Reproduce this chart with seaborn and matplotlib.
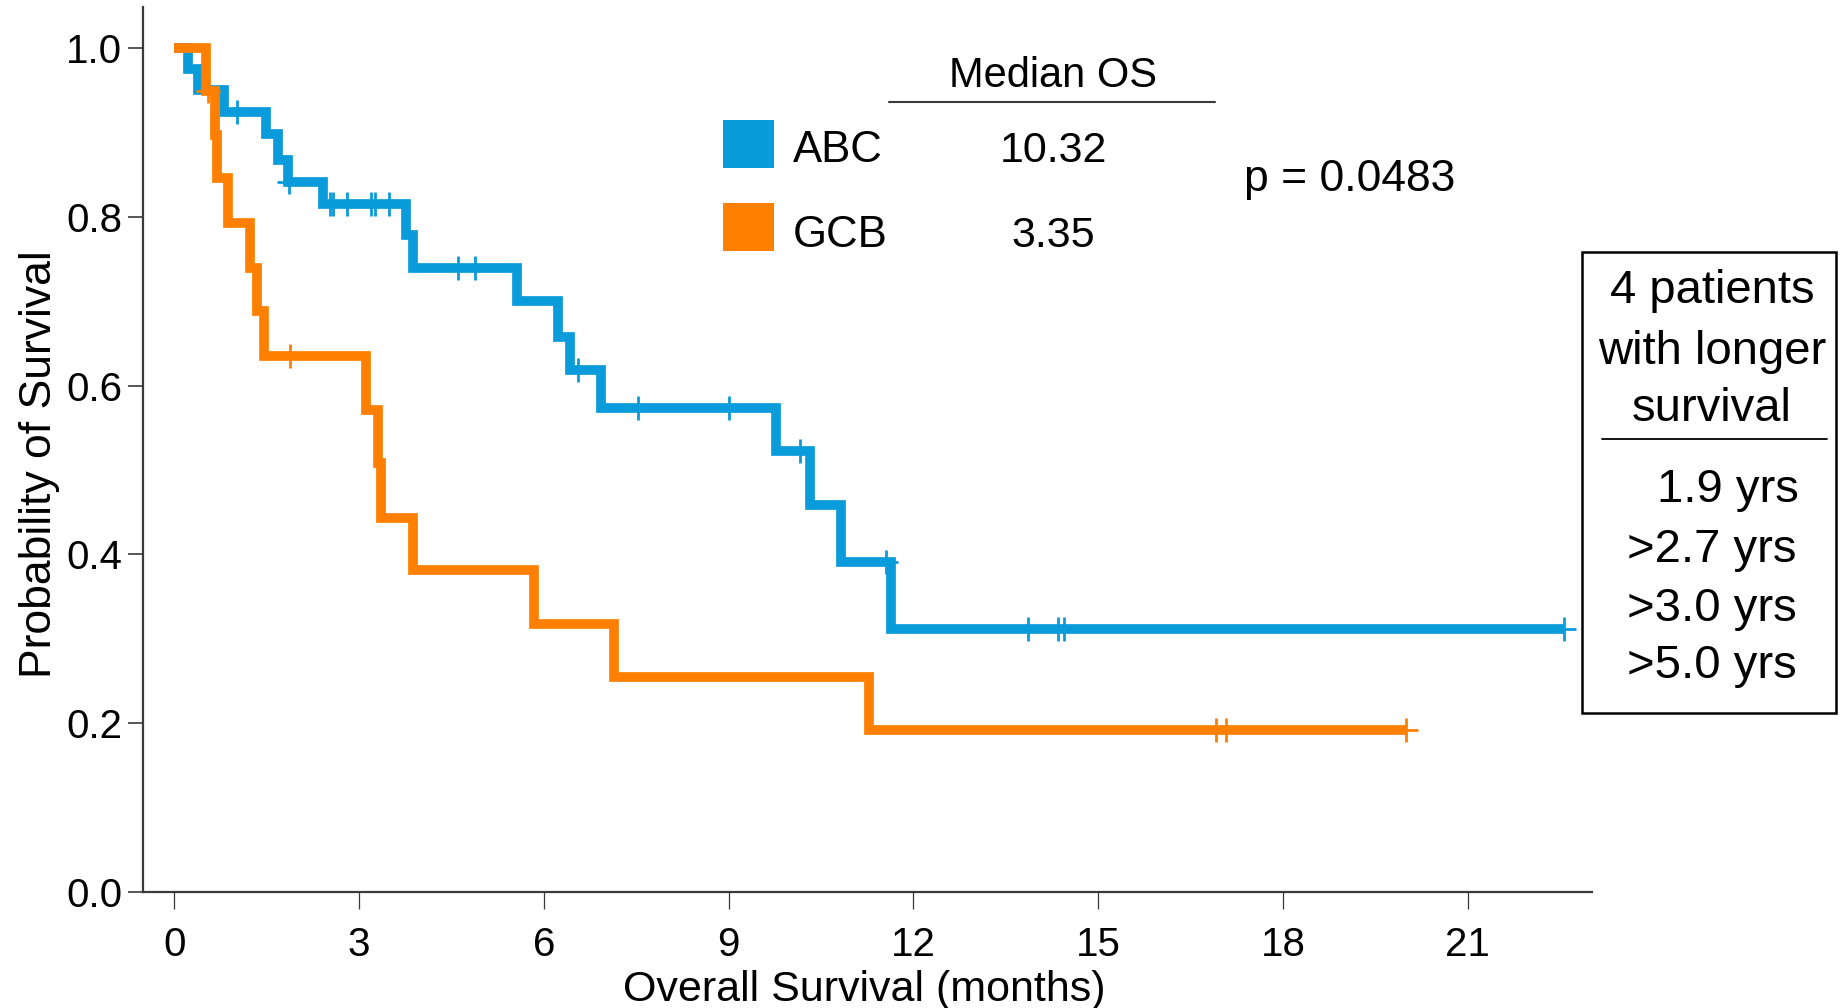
import numpy as np
import pandas as pd
import matplotlib
matplotlib.use("Agg")
import matplotlib.pyplot as plt
import seaborn as sns
from matplotlib.patches import Rectangle
from matplotlib.lines import Line2D

# ---------------- data ----------------
groups = ["ABC", "GCB"]
median_os = ["10.32", "3.35"]
p_value_text = "p = 0.0483"

abc_event_times = [0.23, 0.39, 0.80, 1.49, 1.69, 1.85, 2.41, 3.76, 3.88, 5.56,
                   6.23, 6.42, 6.92, 9.76, 10.32, 10.82, 11.63]
abc_survival = [0.976, 0.951, 0.925, 0.899, 0.868, 0.842, 0.816, 0.779, 0.740,
                0.700, 0.658, 0.618, 0.574, 0.522, 0.458, 0.391, 0.312]
abc_censor_times = [1.01, 1.87, 2.52, 2.57, 2.80, 3.19, 3.26, 3.49, 4.61, 4.88,
                    6.56, 7.53, 9.01, 10.15, 11.55, 13.86, 14.34, 14.45, 22.56]

gcb_event_times = [0.51, 0.66, 0.70, 0.87, 1.23, 1.34, 1.45, 3.11, 3.30, 3.35,
                   3.88, 5.84, 7.14, 11.27]
gcb_survival = [0.949, 0.897, 0.846, 0.793, 0.740, 0.689, 0.635, 0.571, 0.508,
                0.443, 0.381, 0.318, 0.254, 0.192]
gcb_censor_times = [0.55, 1.88, 16.91, 17.07, 20.00]

x_ticks = [0, 3, 6, 9, 12, 15, 18, 21]
y_ticks = [0.0, 0.2, 0.4, 0.6, 0.8, 1.0]

box_title_lines = ["4 patients", "with longer", "survival"]
box_value_lines = ["1.9 yrs", ">2.7 yrs", ">3.0 yrs", ">5.0 yrs"]

colors = {"ABC": "#0A9BDB", "GCB": "#FF8000"}

# ---------------- build tables ----------------
def km_table(group, times, surv, censors):
    t = [0.0] + list(times) + [max(censors)]
    s = [1.0] + list(surv) + [surv[-1]]
    return pd.DataFrame({"time": t, "surv": s, "group": group})

def censor_table(group, times, surv, censors):
    t_arr = np.array(times)
    s_arr = np.array([1.0] + list(surv))
    idx = np.searchsorted(t_arr, np.array(censors), side="right")
    return pd.DataFrame({"time": censors, "surv": s_arr[idx], "group": group})

curves = {
    "ABC": km_table("ABC", abc_event_times, abc_survival, abc_censor_times),
    "GCB": km_table("GCB", gcb_event_times, gcb_survival, gcb_censor_times),
}
cens = {
    "ABC": censor_table("ABC", abc_event_times, abc_survival, abc_censor_times),
    "GCB": censor_table("GCB", gcb_event_times, gcb_survival, gcb_censor_times),
}

# ---------------- figure ----------------
sns.set_style("ticks")
plt.rcParams["font.family"] = ["Liberation Sans", "DejaVu Sans"]
plt.rcParams["text.color"] = "black"
plt.rcParams["axes.labelcolor"] = "black"
plt.rcParams["xtick.labelcolor"] = "black"
plt.rcParams["ytick.labelcolor"] = "black"

W, H = 1841, 1008
fig = plt.figure(figsize=(W / 100, H / 100), dpi=100)

def fx(px):
    return px / W

def fy(py):
    return 1 - py / H

ax = fig.add_axes([fx(143.3), fy(891.7), (1591.7 - 143.3) / W, (891.7 - 7) / H])

for z, g in [(3, "ABC"), (4, "GCB")]:
    sns.lineplot(data=curves[g], x="time", y="surv", estimator=None, sort=False,
                 drawstyle="steps-post", color=colors[g], linewidth=7.0,
                 solid_joinstyle="miter", solid_capstyle="butt", ax=ax,
                 zorder=z, legend=False)
    sns.scatterplot(data=cens[g], x="time", y="surv", marker="+", s=320,
                    linewidth=2.0, color=colors[g], ax=ax, zorder=z + 0.5,
                    legend=False)

ax.set_xlim(-0.503, 23.01)
ax.set_ylim(0, 1.049)
ax.set_xticks(x_ticks)
ax.set_xticklabels([str(v) for v in x_ticks])
ax.set_yticks(y_ticks)
ax.set_yticklabels([f"{v:.1f}" for v in y_ticks])

for side in ["top", "right"]:
    ax.spines[side].set_visible(False)
for side in ["left", "bottom"]:
    ax.spines[side].set_color("#3a3a3a")
    ax.spines[side].set_linewidth(1.6)

ax.tick_params(axis="x", direction="out", length=12, width=0.9, color="#3a3a3a",
               labelsize=29, pad=13, labelcolor="black")
ax.tick_params(axis="y", direction="out", length=11, width=1.2, color="#3a3a3a",
               labelsize=29, pad=4, labelcolor="black")

ax.set_xlabel("Overall Survival (months)", fontsize=31)
ax.set_ylabel("Probability of Survival", fontsize=32)
ax.xaxis.set_label_coords((864 - 143.3) / 1448.4, (891.7 - 990) / 884.7)
ax.xaxis.label.set_va("center")
ax.yaxis.set_label_coords((40 - 143.3) / 1448.4, (891.7 - 464) / 884.7)
ax.yaxis.label.set_va("center")

# ---------------- legend / median table ----------------
fig.text(fx(1053), fy(87), "Median OS", ha="center", va="baseline", fontsize=30)
fig.add_artist(Line2D([fx(889), fx(1215)], [fy(102), fy(102)],
                      transform=fig.transFigure, color="#3a3a3a", lw=1.5))

sq_tops = [120, 203]
baselines = [162, 246.6]
for g, med, top, base in zip(groups, median_os, sq_tops, baselines):
    fig.add_artist(Rectangle((fx(723), fy(top + 48)), 51 / W, 48 / H,
                             transform=fig.transFigure, facecolor=colors[g],
                             edgecolor="none"))
    fig.text(fx(792.5), fy(base), g, ha="left", va="baseline", fontsize=31.5)
    fig.text(fx(1053), fy(base), med, ha="center", va="baseline", fontsize=31)

fig.text(fx(1244.5), fy(191.4), p_value_text, ha="left", va="baseline", fontsize=32)

# ---------------- right box ----------------
fig.add_artist(Rectangle((fx(1581.7), fy(712.5)), (1835.5 - 1581.7) / W, (712.5 - 251.7) / H,
                         transform=fig.transFigure, facecolor="none",
                         edgecolor="black", lw=1.8))
for line, base in zip(box_title_lines, [303, 364, 421]):
    fig.text(fx(1712), fy(base), line, ha="center", va="baseline", fontsize=34)
fig.add_artist(Line2D([fx(1601.7), fx(1826.7)], [fy(439.3), fy(439.3)],
                      transform=fig.transFigure, color="black", lw=1.3))
for line, base, left in zip(box_value_lines, [502, 562, 621, 678],
                            [1656.7, 1626.7, 1626.7, 1626.7]):
    fig.text(fx(left), fy(base), line, ha="left", va="baseline", fontsize=34)

fig.savefig("out.png", dpi=100)
